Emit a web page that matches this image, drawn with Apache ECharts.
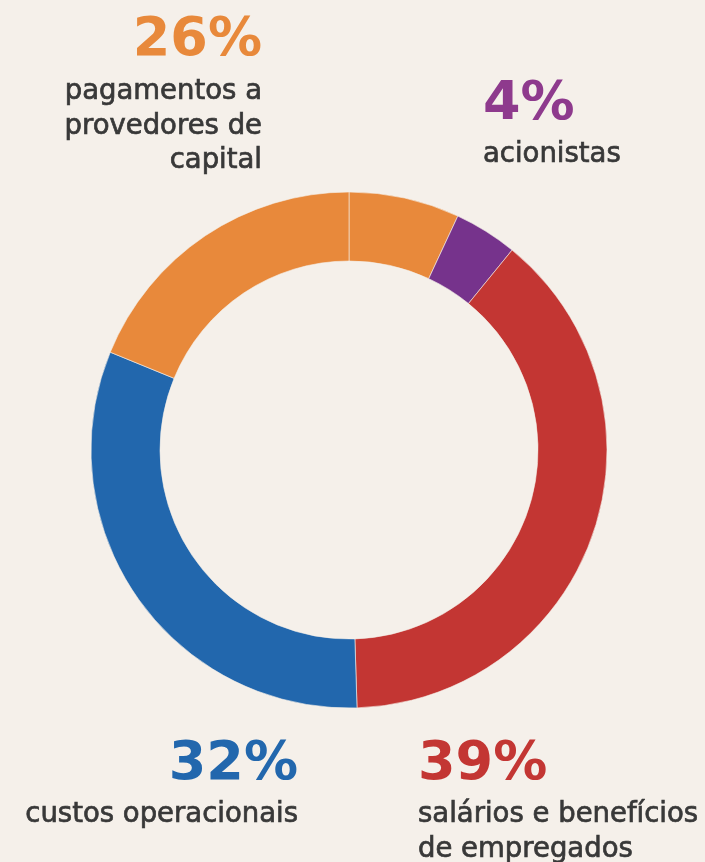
<!DOCTYPE html>
<html>
<head>
<meta charset="utf-8">
<script src="https://cdn.jsdelivr.net/npm/echarts@6/dist/echarts.min.js"></script>
<style>
  html, body { margin: 0; padding: 0; background: #F5F0EA; }
  #chart { width: 705px; height: 862px; }
</style>
</head>
<body>
<div id="chart"></div>
<script>
// Distribution of value added (percent shares)
const categories = [
  'pagamentos a provedores de capital',
  'acionistas',
  'salários e benefícios de empregados',
  'custos operacionais'
];
const shares = [26, 4, 39, 32];
// the capital-providers share is drawn as two arcs meeting at 12 o'clock
const capitalParts = [7, 19];
const labelLines = [
  ['pagamentos a', 'provedores de', 'capital'],
  ['acionistas'],
  ['salários e benefícios', 'de empregados'],
  ['custos operacionais']
];
const sliceColors = ['#E8893B', '#76338C', '#C33633', '#2267AD'];
const pctColors = ['#E8893B', '#8E3A8D', '#C33633', '#2267AD'];

const BG = '#F5F0EA';
const TEXT = '#383838';
const pctFont = 'bold 54px "DejaVu Sans", sans-serif';
const bodyFont = '27.5px "DejaVu Sans", sans-serif';

const pieData = [
  { name: categories[0], value: capitalParts[0], itemStyle: { color: sliceColors[0] } },
  { name: categories[1], value: shares[1], itemStyle: { color: sliceColors[1] } },
  { name: categories[2], value: shares[2], itemStyle: { color: sliceColors[2] } },
  { name: categories[3], value: shares[3], itemStyle: { color: sliceColors[3] } },
  { name: categories[0], value: capitalParts[1], itemStyle: { color: sliceColors[0] } }
];

// label blocks: anchor x, alignment, y of the percent line, y of the first text line
const blocks = [
  { idx: 0, x: 262, align: 'right', pctY: 41, textY: 92 },
  { idx: 1, x: 483, align: 'left', pctY: 105, textY: 155 },
  { idx: 2, x: 418, align: 'left', pctY: 765, textY: 815 },
  { idx: 3, x: 298, align: 'right', pctY: 765, textY: 815 }
];

const graphics = [];
blocks.forEach(b => {
  graphics.push({
    type: 'text', x: b.x, y: b.pctY, silent: true,
    style: { text: shares[b.idx] + '%', font: pctFont, fill: pctColors[b.idx], align: b.align, verticalAlign: 'middle' }
  });
  labelLines[b.idx].forEach((line, i) => {
    graphics.push({
      type: 'text', x: b.x, y: b.textY + i * 34.5, silent: true,
      style: {
        text: line, font: bodyFont, fill: TEXT, stroke: TEXT, lineWidth: 0.7,
        align: b.align, verticalAlign: 'middle'
      }
    });
  });
});

const chart = echarts.init(document.getElementById('chart'), null, { renderer: 'canvas' });
chart.setOption({
  backgroundColor: BG,
  animation: false,
  series: [{
    type: 'pie',
    center: [349, 450],
    radius: [189, 258],
    startAngle: 90,
    clockwise: true,
    avoidLabelOverlap: false,
    label: { show: false },
    labelLine: { show: false },
    emphasis: { disabled: true },
    itemStyle: { borderColor: BG, borderWidth: 0.6 },
    data: pieData
  }],
  graphic: graphics
});
</script>
</body>
</html>
